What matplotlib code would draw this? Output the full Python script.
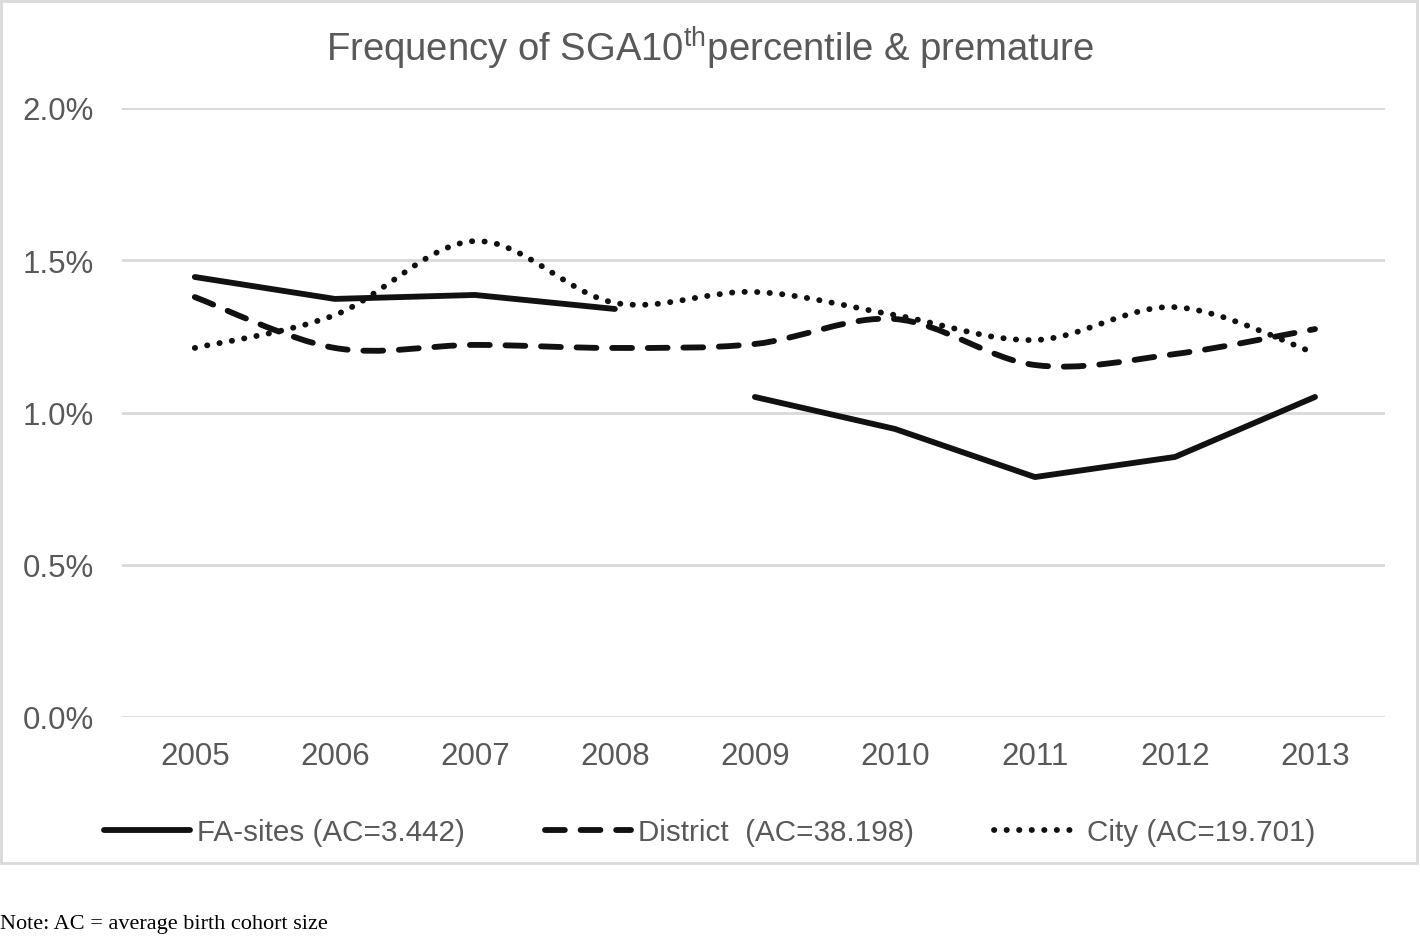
import matplotlib
matplotlib.use("Agg")
import matplotlib.pyplot as plt
import numpy as np
from matplotlib.path import Path
from matplotlib.patches import PathPatch, Rectangle
from matplotlib.lines import Line2D
from matplotlib.ticker import PercentFormatter

plt.rcParams['font.family'] = ['Liberation Sans', 'DejaVu Sans']
plt.rcParams['mathtext.fontset'] = 'custom'
plt.rcParams['mathtext.rm'] = 'Liberation Sans'

years = [2005, 2006, 2007, 2008, 2009, 2010, 2011, 2012, 2013]
fa_sites = [1.445, 1.373, 1.386, 1.340, None, None, None, None, None]
fa_sites2 = [None, None, None, None, 1.051, 0.946, 0.788, 0.854, 1.051]
district = [1.379, 1.212, 1.222, 1.212, 1.225, 1.307, 1.156, 1.192, 1.274]
city = [1.212, 1.320, 1.563, 1.360, 1.396, 1.320, 1.238, 1.346, 1.195]
yticks = [0.0, 0.5, 1.0, 1.5, 2.0]

grey = '#595959'
ink = '#111111'


def smooth_path(xs, ys):
    # catmull-rom style bezier, like excel's smoothed lines
    p = np.column_stack([xs, ys])
    n = len(p)
    verts = [p[0]]
    codes = [Path.MOVETO]
    for i in range(n - 1):
        a = p[i - 1] if i > 0 else p[i]
        b = p[i + 2] if i + 2 < n else p[i + 1]
        c1 = p[i] + (p[i + 1] - a) / 6
        c2 = p[i + 1] - (b - p[i]) / 6
        verts += [c1, c2, p[i + 1]]
        codes += [Path.CURVE4] * 3
    return Path(verts, codes)


fig = plt.figure(figsize=(14.2, 9.37), dpi=100)
fig.patches.append(Rectangle((0.001, 1 - 864 / 937), 0.997, 864 / 937 - 0.002,
                             transform=fig.transFigure, fill=False,
                             edgecolor='#d9d9d9', linewidth=2))
ax = fig.add_axes([122 / 1420, 1 - 718 / 937, 1263 / 1420, 609 / 937])

lw = 4.2
for seg in (fa_sites, fa_sites2):
    xs = [x for x, v in zip(years, seg) if v is not None]
    vs = [v for v in seg if v is not None]
    ax.plot(xs, vs, color=ink, lw=lw, solid_capstyle='round',
            solid_joinstyle='round', zorder=3)

ax.add_patch(PathPatch(smooth_path(years, district), fill=False, edgecolor=ink,
                       lw=lw, linestyle=(0, (3.4, 2.7)), capstyle='round', zorder=3))
ax.add_patch(PathPatch(smooth_path(years, city), fill=False, edgecolor=ink,
                       lw=lw, linestyle=(0, (0.05, 2.1)), capstyle='round', zorder=3))

ax.set_xlim(2004.48, 2013.5)
ax.set_ylim(0, 2.0)
ax.set_xticks(years)
ax.set_yticks(yticks)
ax.yaxis.set_major_formatter(PercentFormatter(decimals=1))
ax.tick_params(length=0, labelsize=22.5, colors=grey)
ax.tick_params(axis='y', pad=20)
ax.tick_params(axis='x', pad=17)
ax.grid(axis='y', color='#d9d9d9', lw=2)
ax.set_axisbelow(True)
for s in ax.spines.values():
    s.set_visible(False)

fig.text(0.5, 1 - 48 / 937, r'Frequency of SGA10$^{\mathrm{th}}$percentile & premature',
         ha='center', va='center', fontsize=27.5, color=grey)

handles = [
    Line2D([], [], color=ink, lw=lw, solid_capstyle='round'),
    Line2D([], [], color=ink, lw=lw, linestyle=(0, (3.4, 2.7)), dash_capstyle='round'),
    Line2D([], [], color=ink, lw=lw, linestyle=(0, (0.05, 2.1)), dash_capstyle='round'),
]
labels = ['FA-sites (AC=3.442)', 'District  (AC=38.198)', 'City (AC=19.701)']
leg = fig.legend(handles, labels, loc='center', bbox_to_anchor=(0.5, 1 - 833 / 937),
                 ncol=3, frameon=False, fontsize=21.3, handlelength=2.9,
                 handletextpad=0.25, columnspacing=2.7)
for t in leg.get_texts():
    t.set_color(grey)

fig.text(0.0, 1 - 925 / 937, 'Note: AC = average birth cohort size',
         ha='left', va='center', fontsize=16, family='Liberation Serif', color='black')

fig.savefig('out.png', dpi=100)
